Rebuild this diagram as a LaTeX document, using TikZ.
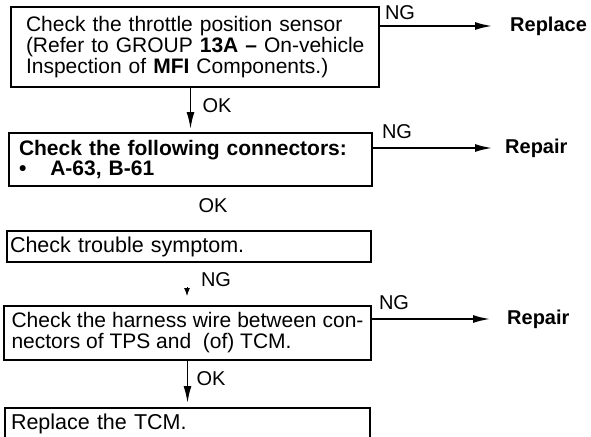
\documentclass[tikz,border=0pt]{standalone}
\usepackage{fontspec}
\setmainfont{Liberation Sans}
\usetikzlibrary{arrows.meta}

\newcommand{\fullline}[1]{\makebox[338pt][s]{#1}}

\begin{document}
\begin{tikzpicture}[x=1pt, y=-1pt,
    box/.style={draw, line width=2pt, inner ysep=0pt, font=\fontsize{21.5}{21}\selectfont},
    lbl/.style={inner sep=0pt, font=\fontsize{20}{21}\selectfont},
    result/.style={inner sep=0pt, anchor=west, font=\fontsize{20}{21}\selectfont\bfseries},
    arrow/.style={line width=1.8pt, -{Latex[length=17pt, width=8pt]}},
    tinyarrow/.style={line width=1pt, -{Latex[length=8pt, width=6pt]}}]
  \clip (0,0) rectangle (591,436);

  % check boxes
  \node[box, text width=338pt, inner xsep=15pt, minimum height=80pt, align=left, font=\fontsize{21}{21}\selectfont] (check1) at (195,47)
    {\fullline{Check the throttle position sensor}\\
     \fullline{(Refer to GROUP \textbf{13A --} On-vehicle}\\
     \fullline{Inspection of \textbf{MFI} Components.)}};
  \node[box, text width=343pt, inner xsep=10pt, minimum height=53pt, align=left, font=\fontsize{21}{20}\selectfont\bfseries] (check2) at (190.5,159.5)
    {Check the following connectors:\\ \textbullet\hspace{24pt}A-63, B-61};
  \node[box, text width=358pt, inner xsep=3pt, minimum height=31pt, align=left] (check3) at (189,246.5)
    {Check trouble symptom.};
  \node[box, text width=352pt, inner xsep=7.5pt, minimum height=54pt, align=justify, font=\fontsize{21}{21}\selectfont] (check4) at (187.5,333)
    {Check the harness wire between con-\linebreak nectors of TPS and\ \ (of) TCM.};
  \node[box, text width=353pt, inner xsep=6pt, minimum height=32pt, align=left, anchor=north west] (check5) at (4,407)
    {Replace the TCM.};

  % results
  \node[result] (replace) at (510,26) {Replace};
  \node[result] (repair1) at (505,148) {Repair};
  \node[result] (repair2) at (507,319) {Repair};

  % labels
  \node[lbl] (ng1) at (400,13) {NG};
  \node[lbl] (ng2) at (397,132) {NG};
  \node[lbl] (ng3) at (216,280) {NG};
  \node[lbl] (ng4) at (394,303) {NG};
  \node[lbl] (ok1) at (217,106) {OK};
  \node[lbl] (ok2) at (213,206) {OK};
  \node[lbl] (ok4) at (211,379) {OK};

  \coordinate (gap) at (187,287);

  \draw[arrow, shorten >=3pt] (check1.south -| check2.north) -- (check2.north);
  \draw[arrow, shorten >=4pt] (check4.south) -- (check4.south |- check5.north);
  \draw[tinyarrow, shorten >=9pt] (gap) -- (gap |- check4.north);

  \draw[arrow, shorten >=18pt] (check1.east |- replace.west) -- (replace.west);
  \draw[arrow, shorten >=13pt] (check2.east |- repair1.west) -- (repair1.west);
  \draw[arrow, shorten >=17pt] (check4.east |- repair2.west) -- (repair2.west);
\end{tikzpicture}
\end{document}
